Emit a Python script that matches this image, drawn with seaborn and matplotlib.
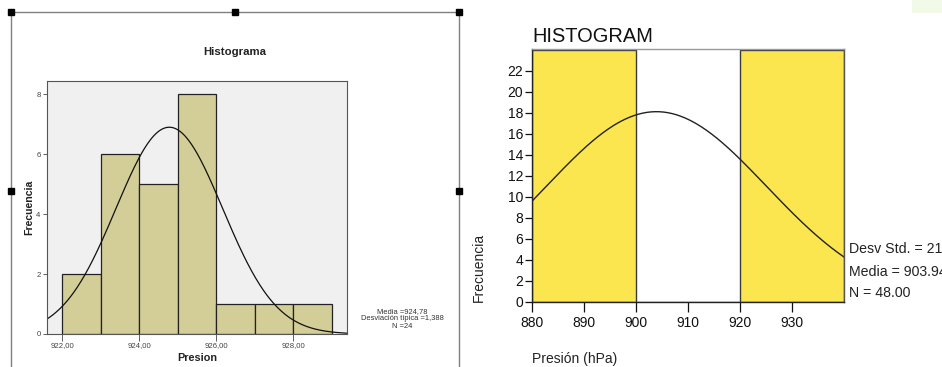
import numpy as np
import pandas as pd
import seaborn as sns
import matplotlib.pyplot as plt

# --- datos panel izquierdo (SPSS) ---
left_edges = [922, 923, 924, 925, 926, 927, 928, 929]
left_counts = [2, 6, 5, 8, 1, 1, 1]
left_mean, left_sd, left_n = 924.78, 1.388, 24
left_xticks = [922, 924, 926, 928]
left_xticklabels = ["922,00", "924,00", "926,00", "928,00"]
left_yticks = [0, 2, 4, 6, 8]

# --- datos panel derecho ---
right_edges = [880, 900, 920, 940]
right_counts = [24, 0, 24]
right_mean, right_sd, right_n = 903.94, 21.16, 48
right_xticks = [880, 890, 900, 910, 920, 930]
right_yticks = list(range(0, 23, 2))

W, H = 942, 367
sns.set_theme(style="white")
plt.rcParams['font.family'] = ['Liberation Sans', 'DejaVu Sans']

fig = plt.figure(figsize=(W / 100, H / 100), dpi=100)


def box(x0, y0, x1, y1):
    # pixel coords (top-left origin) -> figure fraction
    return [x0 / W, 1 - y1 / H, (x1 - x0) / W, (y1 - y0) / H]


def normal_curve(mean, sd, n, width, lo, hi):
    xs = np.linspace(lo, hi, 300)
    ys = n * width * np.exp(-0.5 * ((xs - mean) / sd) ** 2) / (sd * np.sqrt(2 * np.pi))
    return xs, ys


# ================= panel izquierdo =================
ax1 = fig.add_axes(box(47, 81, 347, 334))
ax1.set_facecolor('#f0f0f0')
lc = [(a + b) / 2 for a, b in zip(left_edges[:-1], left_edges[1:])]
sns.histplot(x=lc, weights=left_counts, bins=left_edges, ax=ax1, color='#d3ce97',
             edgecolor='#222222', linewidth=0.9, alpha=1)
xs, ys = normal_curve(left_mean, left_sd, left_n, 1, 921.6, 929.4)
sns.lineplot(x=xs, y=ys, ax=ax1, color='#111111', linewidth=0.9)
ax1.set_xlim(921.6, 929.4)
ax1.set_ylim(0, 8.44)
ax1.set_xticks(left_xticks)
ax1.set_xticklabels(left_xticklabels)
ax1.set_yticks(left_yticks)
ax1.tick_params(axis='both', labelsize=5.6, colors='#444444', length=3, width=0.6,
                direction='out', pad=1.5, bottom=True, left=True)
ax1.tick_params(axis='x', length=5, pad=1)
ax1.set_xlabel('')
ax1.set_ylabel('')
for s in ax1.spines.values():
    s.set_color('#555555')
    s.set_linewidth(0.8)

fig.text(235 / W, 1 - 52 / H, 'Histograma', ha='center', va='center',
         fontsize=8.2, fontweight='bold', color='#222222')
fig.text(197 / W, 1 - 358 / H, 'Presion', ha='center', va='center',
         fontsize=7.8, fontweight='bold', color='#222222')
fig.text(29 / W, 1 - 207 / H, 'Frecuencia', ha='center', va='center', rotation=90,
         fontsize=7.6, fontweight='bold', color='#222222')
fig.text(402 / W, 1 - 319 / H,
         f'Media ={left_mean:.2f}'.replace('.', ',') + '\n'
         + f'Desviación típica ={left_sd:.3f}'.replace('.', ',') + '\n'
         + f'N ={left_n}',
         ha='center', va='center', fontsize=5.4, color='#333333', linespacing=1.0)

# ================= panel derecho =================
ax2 = fig.add_axes(box(531.7, 49.3, 844.3, 301.7))
ax2.set_facecolor('white')
rc = [(a + b) / 2 for a, b in zip(right_edges[:-1], right_edges[1:])]
sns.histplot(x=rc, weights=right_counts, bins=right_edges, ax=ax2, color='#fbe64f',
             edgecolor='#3a3a3a', linewidth=1.0, alpha=1)
xs, ys = normal_curve(right_mean, right_sd, right_n, 20, 880, 940)
sns.lineplot(x=xs, y=ys, ax=ax2, color='#222222', linewidth=1.0)
ax2.set_xlim(880, 940)
ax2.set_ylim(0, 24.04)
ax2.set_xticks(right_xticks)
ax2.set_yticks(right_yticks)
ax2.tick_params(axis='both', labelsize=10, colors='#111111', direction='out',
                bottom=True, left=True, width=0.9)
ax2.tick_params(axis='x', length=7, pad=3)
ax2.tick_params(axis='y', length=5, pad=1)
ax2.set_xlabel('')
ax2.set_ylabel('')
ax2.spines['left'].set_color('#222222')
ax2.spines['bottom'].set_color('#222222')
ax2.spines['top'].set_color('#999999')
ax2.spines['right'].set_color('#555555')
for s in ax2.spines.values():
    s.set_linewidth(1.0)

fig.text(532.7 / W, 1 - 41.5 / H, 'HISTOGRAM', ha='left', va='baseline',
         fontsize=14.4, color='#111111')
fig.text(532 / W, 1 - 359 / H, 'Presión (hPa)', ha='left', va='center',
         fontsize=10, color='#222222')
fig.text(479 / W, 1 - 302 / H, 'Frecuencia', ha='center', va='bottom', rotation=90,
         fontsize=10, color='#222222')
stats_lines = [f'Desv Std. = {right_sd:.2f}', f'Media = {right_mean:.2f}', f'N = {right_n:.2f}']
for txt, yy in zip(stats_lines, [249, 272, 293]):
    fig.text(849.3 / W, 1 - yy / H, txt, ha='left', va='center', fontsize=10.2,
             color='#222222')

# ================= marco de selección (izquierda) =================
ov = fig.add_axes([0, 0, 1, 1], zorder=10)
ov.set_xlim(0, W)
ov.set_ylim(H, 0)
ov.axis('off')
ov.patch.set_alpha(0)
ov.plot([11, 11, 459, 459], [H + 2, 12, 12, H + 2], color='#808080', linewidth=1.0)
ov.plot([11, 235, 459, 11, 459], [12, 12, 12, 191, 191], linestyle='none',
        marker='s', markersize=3.8, color='black')
ov.add_patch(plt.Rectangle((912, 0), 30, 13, color='#eef8e2', alpha=0.8, linewidth=0))

fig.savefig('out.png', dpi=100)
